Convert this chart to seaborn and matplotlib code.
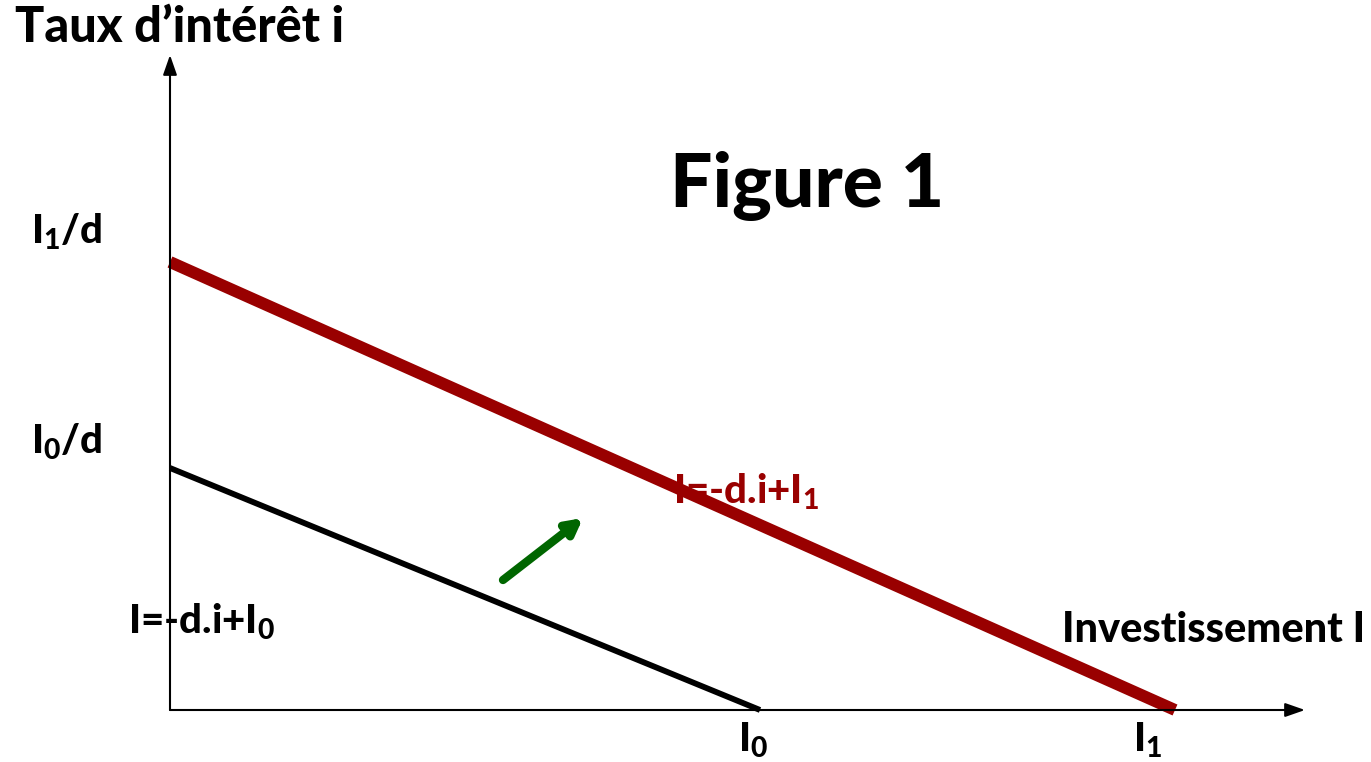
import matplotlib
matplotlib.use("Agg")
import matplotlib.pyplot as plt
import seaborn as sns
import pandas as pd

sns.set_theme(style="white")
plt.rcParams["font.family"] = ["Lato", "DejaVu Sans"]
plt.rcParams["text.color"] = "black"
plt.rcParams["mathtext.fontset"] = "custom"
plt.rcParams["mathtext.rm"] = "Lato:black"
plt.rcParams["mathtext.it"] = "Lato:black"
plt.rcParams["mathtext.bf"] = "Lato:black"

# Investment demand curves: intercepts on each axis
curves = ["I0", "I1"]
x_intercepts = [5.90, 10.05]   # investment when i = 0
y_intercepts = [2.42, 4.48]    # interest rate when I = 0
curve_colors = ["#000000", "#990000"]
curve_widths = [4.2, 8.6]

x_max, y_max = 11.35, 6.55

fig = plt.figure(figsize=(13.71, 7.62), dpi=100)
ax = fig.add_axes([170 / 1371, (762 - 710) / 762, (1305 - 170) / 1371, (710 - 55) / 762])
ax.set_xlim(0, x_max)
ax.set_ylim(0, y_max)
ax.axis("off")

for name, xi, yi, c, lw in zip(curves, x_intercepts, y_intercepts, curve_colors, curve_widths):
    df = pd.DataFrame({"I": [0, xi], "i": [yi, 0]})
    sns.lineplot(data=df, x="I", y="i", color=c, linewidth=lw, ax=ax,
                 solid_capstyle="butt", clip_on=False)

# Axes with arrow heads
arrow_kw = dict(arrowstyle="-|>,head_length=1.0,head_width=0.35", color="black", lw=1.5,
                shrinkA=0, shrinkB=0)
ax.annotate("", xy=(x_max, 0), xytext=(0, 0), arrowprops=arrow_kw, annotation_clip=False)
ax.annotate("", xy=(0, y_max), xytext=(0, 0), arrowprops=arrow_kw, annotation_clip=False)

# Shift arrow
ax.annotate("", xy=(4.13, 1.92), xytext=(3.33, 1.30),
            arrowprops=dict(arrowstyle="-|>,head_length=0.75,head_width=0.4",
                            color="#006600", lw=6, shrinkA=0, shrinkB=0))

fw = "black"
fs = 29
ax.text(-1.55, 6.60, "Taux d’intérêt i", fontsize=35, fontweight=fw, ha="left", va="bottom")
ax.text(11.95, 0.80, "Investissement I", fontsize=30, fontweight=fw, ha="right", va="center")
ax.text(6.37, 5.24, "Figure 1", fontsize=54, fontweight=fw, ha="center", va="center")

ax.text(-1.03, 4.78, r"$I_1$/d", fontsize=fs, fontweight=fw, ha="center", va="center")
ax.text(-1.03, 2.68, r"$I_0$/d", fontsize=fs, fontweight=fw, ha="center", va="center")
ax.text(x_intercepts[0] - 0.07, -0.30, r"$I_0$", fontsize=fs, fontweight=fw, ha="center", va="center")
ax.text(x_intercepts[1] - 0.28, -0.30, r"$I_1$", fontsize=fs, fontweight=fw, ha="center", va="center")
ax.text(-0.42, 0.88, r"I=-d.i+$I_0$", fontsize=fs, fontweight=fw, ha="left", va="center")
ax.text(5.03, 2.18, r"I=-d.i+$I_1$", fontsize=fs, fontweight=fw, ha="left", va="center",
        color="#990000")

fig.savefig("out.png", dpi=100)
